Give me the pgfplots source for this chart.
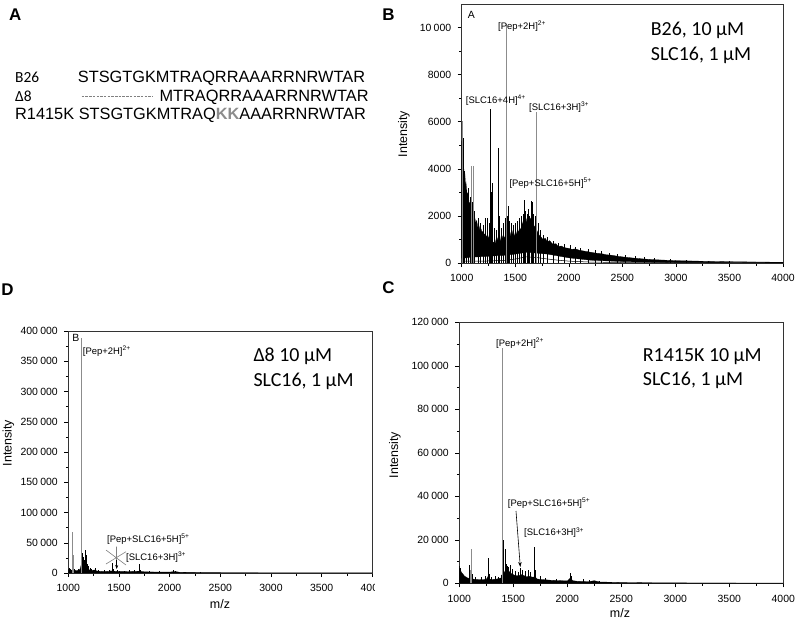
\documentclass[border=0pt]{standalone}
\usepackage{pgfplots}
\pgfplotsset{compat=1.18}
\usetikzlibrary{arrows.meta}
\usepackage{fontspec}
\setmainfont{Liberation Sans}
\newfontfamily\calib{Carlito}
\pgfplotsset{
  spec/.style={scale only axis, anchor=south west, xmin=1000, xmax=4000, ymin=0,
    axis line style={black!80, line width=0.6bp},
    tick align=outside, xtick pos=left, ytick pos=left,
    xtick={1000,1500,...,4000}, minor x tick num=1,
    major tick length=4bp, minor tick length=2.5bp,
    every tick/.style={black, line width=0.5bp},
    ticklabel style={font=\fontsize{10.5}{12}\selectfont},
    xticklabel style={yshift=-4bp},
    yticklabel style={xshift=-3bp},
    /pgf/number format/fixed,
    /pgf/number format/precision=0,
    /pgf/number format/assume math mode=true,
    /pgf/number format/1000 sep={\hspace{0.22em}},
    /pgf/number format/min exponent for 1000 sep=4,
    scaled y ticks=false, scaled x ticks=false,
    clip=true,
  },
  spk/.style={ycomb, mark=none, black, line width=0.45bp},
  gpk/.style={ycomb, mark=none, black!45, line width=0.6bp},
}
\begin{document}
\begin{tikzpicture}[x=1bp,y=-1bp]
\useasboundingbox (0,0) rectangle (796,622);

% ---------------- Panel A ----------------
\node[anchor=center, font=\bfseries\fontsize{17}{20}\selectfont] at (15.3,14.5) {A};
\node[anchor=base west, inner sep=0, font=\calib\fontsize{15.5}{18}\selectfont] at (15,82.3) {B26};
\node[anchor=base west, inner sep=0, font=\fontsize{16.4}{19}\selectfont] at (77.7,82.3) {STSGTGKMTRAQRRAAARRNRWTAR};
\node[anchor=base west, inner sep=0, font=\calib\fontsize{15.5}{18}\selectfont] at (15,101.7) {Δ8};
\draw[black!50, dash pattern=on 2.5bp off 1.2bp, line width=0.7bp] (81.7,96) -- (153.3,96);
\node[anchor=base west, inner sep=0, font=\fontsize{16.4}{19}\selectfont] at (159.3,101.7) {MTRAQRRAAARRNRWTAR};
\node[anchor=base west, inner sep=0, font=\fontsize{16.4}{19}\selectfont] at (15,120) {R1415K STSGTGKMTRAQ{\color{black!45}\bfseries KK}AAARRNRWTAR};

% ---------------- Panel B ----------------
\node[anchor=center, font=\bfseries\fontsize{17}{20}\selectfont] at (388.5,14.5) {B};
\begin{axis}[spec, at={(461.7bp,-263bp)}, width=321.3bp, height=259bp,
  ymax=11000, ytick={0,2000,...,10000}, minor y tick num=1]
\addplot[fill=black, draw=black, line width=0.3bp] coordinates {
(1000,5200) (1005,4800) (1010,5300) (1015,4300) (1020,4000) (1025,3600) (1030,3800) (1035,3200)
(1040,3400) (1050,2900) (1060,3000) (1070,2500) (1080,2600) (1090,2200) (1100,2300) (1110,1900)
(1120,2000) (1130,1700) (1140,1800) (1150,1500) (1160,1600) (1170,1400) (1180,1450) (1190,1300)
(1200,1350) (1210,1200) (1220,1250) (1230,1100) (1240,1200) (1250,1000) (1260,1300) (1270,1500)
(1280,1250) (1290,900) (1300,850) (1310,1000) (1320,800) (1330,950) (1340,1100) (1350,1400)
(1360,1000) (1370,900) (1380,1100) (1390,1200) (1400,1000) (1410,1300) (1420,1500) (1430,1400)
(1440,1300) (1450,1100) (1460,1300) (1470,1200) (1480,1400) (1490,1100) (1500,1300) (1510,1200)
(1520,1400) (1530,1300) (1540,1500) (1550,1400) (1560,1600) (1570,1700) (1580,1900) (1590,1800)
(1600,1900) (1610,1700) (1620,1800) (1630,1600) (1640,1900) (1650,1800) (1660,1700) (1670,1600)
(1680,1500) (1690,1700) (1700,1400) (1710,1300) (1720,1200) (1740,1100) (1760,1000) (1780,1050)
(1800,900) (1820,950) (1850,800) (1880,820) (1900,700) (1930,720) (1960,650) (2000,620)
(2030,580) (2060,600) (2100,540) (2150,500) (2200,460) (2250,420) (2300,400) (2350,350)
(2400,330) (2450,290) (2500,260) (2600,210) (2700,170) (2800,140) (2900,120) (3000,100)
(3200,80) (3400,60) (3600,50) (3800,40) (4000,30)
(4000,10) (3000,20) (2500,60) (2200,120) (2000,220) (1900,300) (1800,380) (1700,420)
(1600,450) (1500,380) (1400,330) (1300,300) (1200,270) (1100,250) (1000,200)} -- cycle;
\addplot[black, line width=0.5bp, mark=none] coordinates {
(1000,80) (1200,80) (1400,110) (1500,170) (1600,260) (1700,230) (1800,170) (1900,120)
(2000,80) (2200,40) (2500,20) (4000,5)};
\addplot[spk] coordinates {
(1008,4700) (1012,5300) (1018,4400) (1025,3900) (1045,3100) (1062,3200) (1075,2800) (1098,2600)
(1120,2200) (1150,1900) (1175,1700) (1205,1600) (1220,1900) (1239,1900) (1255,1700) (1262,2400)
(1267,6550) (1272,3000) (1289,3400) (1300,1500) (1318,1400) (1342,4900) (1346,2000) (1365,1500)
(1390,1700) (1402,1900) (1425,2000) (1430,2400) (1445,1800) (1462,1700) (1480,1600) (1500,1700)
(1520,1800) (1540,1900) (1555,2000) (1570,2100) (1585,2680) (1595,2200) (1610,2100) (1622,2300)
(1630,2000) (1647,2650) (1654,2600) (1665,2100) (1685,2000) (1700,1900) (1710,1700) (1730,1400)
(1760,1200) (1800,1100) (1850,950) (1900,850) (1960,800) (2010,750) (2060,700) (2110,650)
(2180,600) (2250,550) (2300,500) (2380,430) (2450,380) (2530,330) (2620,290) (2700,250)
(2800,200) (2950,160) (3100,130) (3300,100) (3500,80)};
\addplot[gpk] coordinates {(1005,6050) (1087,4100) (1108,4100) (1420,10150) (1694,6400)};
\end{axis}
\node[anchor=west, inner sep=0, font=\fontsize{10.5}{12}\selectfont] at (467.7,15) {A};
\node[anchor=west, inner sep=0, font=\fontsize{9.5}{11}\selectfont] at (498,26) {[Pep+2H]\textsuperscript{2+}};
\node[anchor=west, inner sep=0, font=\fontsize{9.5}{11}\selectfont] at (465.7,100) {[SLC16+4H]\textsuperscript{4+}};
\node[anchor=west, inner sep=0, font=\fontsize{9.5}{11}\selectfont] at (529,107) {[SLC16+3H]\textsuperscript{3+}};
\node[anchor=west, inner sep=0, font=\fontsize{9.5}{11}\selectfont] at (509.3,183) {[Pep+SLC16+5H]\textsuperscript{5+}};
\node[anchor=west, inner sep=0, font=\calib\fontsize{20}{24}\selectfont] at (650.7,30) {B26, 10 μM};
\node[anchor=west, inner sep=0, font=\calib\fontsize{20}{24}\selectfont] at (650.7,55) {SLC16, 1 μM};
\node[rotate=90, font=\fontsize{12.5}{14}\selectfont] at (404,134) {Intensity};

% ---------------- Panel D ----------------
\node[anchor=center, font=\bfseries\fontsize{17}{20}\selectfont] at (7.5,290) {D};
\begin{axis}[spec, at={(68.3bp,-573bp)}, width=304bp, height=242bp,
  ymax=400000, ytick={0,50000,...,400000}, minor y tick num=1]
\addplot[fill=black, draw=black, line width=0.3bp] coordinates {
(1000,6000) (1010,5000) (1020,5500) (1030,4500) (1040,5000) (1050,4500) (1060,4000) (1070,4500)
(1080,4000) (1090,4200) (1100,4500) (1110,5000) (1120,8000) (1125,12000) (1130,15000) (1135,13000)
(1140,12000) (1150,11000) (1160,10000) (1170,12000) (1180,8000) (1190,7000) (1200,6000) (1210,5000)
(1220,4500) (1240,4500) (1260,5000) (1280,3500) (1300,3000) (1350,2500) (1400,2800) (1420,3500)
(1450,3000) (1500,2500) (1550,2600) (1600,2400) (1650,2800) (1700,3000) (1750,2000) (1800,1800)
(1900,1500) (2000,1500) (2050,2500) (2100,1200) (2200,900) (2400,700) (2600,500) (3000,400)
(3500,350) (4000,300) (4000,0) (1000,0)} -- cycle;
\addplot[spk] coordinates {
(1005,8000) (1015,7000) (1060,6000) (1095,6500) (1138,33000) (1145,26000) (1155,22000) (1167,38000)
(1172,30000) (1180,20000) (1190,15000) (1200,12000) (1215,9000) (1230,7000) (1262,8000) (1300,5000)
(1350,4500) (1400,5000) (1430,16500) (1440,6000) (1480,5000) (1500,4000) (1550,4000) (1600,4500)
(1650,5000) (1699,14400) (1710,5000) (1800,3500) (1900,2500) (2040,4500) (2060,3000) (2150,2000)
(2300,1500)};
\addplot[gpk] coordinates {(1040,67000) (1052,30000) (1125,388000) (1131,134000)};
\end{axis}
\fill[white] (375,577) rectangle (395,598);
\node[anchor=west, inner sep=0, font=\fontsize{10.5}{12}\selectfont] at (72.3,338.3) {B};
\node[anchor=west, inner sep=0, font=\fontsize{9.5}{11}\selectfont] at (82.7,351.5) {[Pep+2H]\textsuperscript{2+}};
\node[anchor=west, inner sep=0, font=\fontsize{9.5}{11}\selectfont] at (107,539) {[Pep+SLC16+5H]\textsuperscript{5+}};
\node[anchor=west, inner sep=0, font=\fontsize{9.5}{11}\selectfont] at (126,557) {[SLC16+3H]\textsuperscript{3+}};
\draw[black!50, line width=0.6bp] (106,550) -- (126,565) (106,564) -- (126,551.7) (116.5,546.7) -- (116.5,562);
\draw[-{Stealth[length=4bp,width=3bp]}, black, line width=0.5bp] (116.7,560) -- (116.7,569);
\node[anchor=west, inner sep=0, font=\calib\fontsize{20}{24}\selectfont] at (253.3,356) {Δ8 10 μM};
\node[anchor=west, inner sep=0, font=\calib\fontsize{20}{24}\selectfont] at (253.3,381.7) {SLC16, 1 μM};
\node[rotate=90, font=\fontsize{12.5}{14}\selectfont] at (8.5,443) {Intensity};
\node[font=\fontsize{12.5}{14}\selectfont] at (220,604) {m/z};

% ---------------- Panel C ----------------
\node[anchor=center, font=\bfseries\fontsize{17}{20}\selectfont] at (388.5,287.5) {C};
\begin{axis}[spec, at={(459.3bp,-583.3bp)}, width=324bp, height=261bp,
  ymax=120000, ytick={0,20000,...,120000}, minor y tick num=1]
\addplot[fill=black, draw=black, line width=0.3bp] coordinates {
(1000,7000) (1005,6500) (1010,6000) (1020,5000) (1030,4500) (1040,3800) (1050,3200) (1060,3000)
(1070,2600) (1080,2400) (1100,2200) (1120,2000) (1150,1800) (1200,1700) (1250,1800) (1270,3500)
(1280,2000) (1300,1700) (1350,2000) (1390,2500) (1400,5000) (1410,6000) (1420,5000) (1440,4500)
(1460,5500) (1480,4500) (1500,4000) (1520,3500) (1550,3500) (1580,4000) (1600,3500) (1620,3000)
(1650,3200) (1680,2800) (1700,3000) (1720,2000) (1750,1800) (1800,1600) (1850,1400) (1900,1300)
(1950,1200) (2000,1100) (2030,2500) (2050,1200) (2100,900) (2200,800) (2250,1200) (2300,600)
(2400,500) (2500,400) (2600,350) (2800,250) (3000,200) (3500,150) (4000,100) (4000,0) (1000,0)} -- cycle;
\addplot[spk] coordinates {
(1003,8000) (1010,7000) (1090,8400) (1120,4500) (1150,3000) (1200,3000) (1240,3500) (1268,11500)
(1275,4500) (1300,3000) (1330,3500) (1360,3000) (1385,4000) (1400,47000) (1405,20000) (1426,15800)
(1433,9000) (1445,8000) (1455,7500) (1470,8200) (1490,6500) (1520,5500) (1550,5000) (1565,7000)
(1580,6000) (1610,5500) (1640,6000) (1660,5000) (1694,16700) (1700,6000) (1750,3500) (1800,2500)
(1900,2000) (2030,4600) (2040,3500) (2150,1800) (2200,1600) (2300,1200)};
\addplot[gpk] coordinates {(1098,6000) (1115,15800) (1395,108000)};
\end{axis}
\node[anchor=west, inner sep=0, font=\fontsize{9.5}{11}\selectfont] at (496,343.3) {[Pep+2H]\textsuperscript{2+}};
\node[anchor=west, inner sep=0, font=\fontsize{9.5}{11}\selectfont] at (507.7,503.3) {[Pep+SLC16+5H]\textsuperscript{5+}};
\node[anchor=west, inner sep=0, font=\fontsize{9.5}{11}\selectfont] at (524,532.7) {[SLC16+3H]\textsuperscript{3+}};
\draw[-{Stealth[length=5bp,width=3.5bp]}, black, line width=0.6bp] (516,511) -- (520.3,567);
\node[anchor=west, inner sep=0, font=\calib\fontsize{20}{24}\selectfont] at (642.7,357) {R1415K 10 μM};
\node[anchor=west, inner sep=0, font=\calib\fontsize{20}{24}\selectfont] at (642.7,380) {SLC16, 1 μM};
\node[rotate=90, font=\fontsize{12.5}{14}\selectfont] at (395,455) {Intensity};
\node[font=\fontsize{12.5}{14}\selectfont] at (620,613.5) {m/z};
\end{tikzpicture}
\end{document}
